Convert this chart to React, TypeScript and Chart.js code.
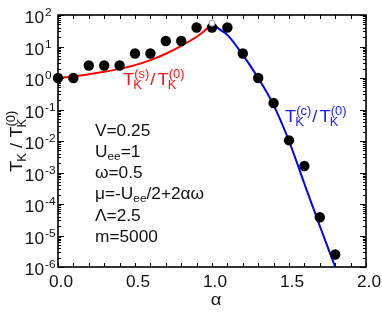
import React, { useEffect, useRef } from 'react';
import { Chart, registerables } from 'chart.js';

Chart.register(...registerables);

// Data points (black dots)
const dotAlpha = [0, 0.1, 0.2, 0.3, 0.4, 0.5, 0.6, 0.7, 0.8, 0.9, 1.0, 1.1, 1.2, 1.3, 1.4, 1.5, 1.6, 1.7, 1.8];
const dotRatio = [1.0, 1.0, 2.5, 2.5, 2.5, 6.0, 6.0, 15, 15, 40, 40, 40, 6.0, 1.0, 0.16, 0.0105, 0.0016, 3.8e-5, 2.5e-6];

// Red curve T_K^(s)/T_K^(0)
const sAlpha = [0, 0.1, 0.2, 0.3, 0.4, 0.5, 0.6, 0.7, 0.8, 0.9, 0.95, 1.0];
const sRatio = [1.0, 1.12, 1.32, 1.58, 1.95, 2.57, 3.7, 5.9, 10.5, 20.4, 31, 55];

// Blue curve T_K^(c)/T_K^(0)
const cAlpha = [1.0, 1.05, 1.1, 1.2, 1.3, 1.4, 1.5, 1.6, 1.7, 1.8];
const cRatio = [55, 35, 23.4, 5.4, 1.0, 0.138, 0.01, 4.4e-4, 2.0e-5, 1.0e-6];

// Junction marker
const junctionAlpha = [1.0];
const junctionRatio = [55];

// Axis ticks
const xTickLabels = ['0.0', '0.5', '1.0', '1.5', '2.0'];
const xTickValues = [0, 0.5, 1.0, 1.5, 2.0];
const yDecades = [-6, -5, -4, -3, -2, -1, 0, 1, 2];

const FONT = '"Liberation Sans", Arial, Helvetica, sans-serif';
const SX = 1.08;

function txt(ctx: CanvasRenderingContext2D, s: string, x: number, y: number, size: number, color: string, align: string = 'left'): number {
  ctx.save();
  ctx.font = `${size}px ${FONT}`;
  ctx.fillStyle = color;
  ctx.textBaseline = 'alphabetic';
  ctx.textAlign = 'left';
  const w = ctx.measureText(s).width * SX;
  let x0 = x;
  if (align === 'center') x0 = x - w / 2;
  else if (align === 'right') x0 = x - w;
  ctx.translate(x0, y);
  ctx.scale(SX, 1);
  ctx.fillText(s, 0, 0);
  ctx.restore();
  return w;
}

function tk(ctx: CanvasRenderingContext2D, x: number, y: number, sup: string, color: string, big: number): number {
  const w = txt(ctx, 'T', x, y, big, color);
  const small = Math.round(big * 0.68);
  const wk = txt(ctx, 'K', x + w - 1, y + 4, small, color);
  let ws = 0;
  if (sup) ws = txt(ctx, sup, x + w, y - 7, small, color);
  return w + Math.max(wk - 1, ws);
}

function ratioLabel(ctx: CanvasRenderingContext2D, x: number, y: number, sup1: string, color: string, big: number, tight: boolean) {
  let cx = x;
  cx += tk(ctx, cx, y, sup1, color, big);
  if (tight) {
    cx += 1;
    cx += txt(ctx, '/', cx, y, big, color);
    cx += 2;
  } else {
    cx += txt(ctx, ' / ', cx, y, big, color);
  }
  tk(ctx, cx, y, '(0)', color, big);
}

const framePlugin = {
  id: 'frameTicks',
  beforeDatasetsDraw(chart: any) {
    const ctx: CanvasRenderingContext2D = chart.ctx;
    const { left, right, top, bottom } = chart.chartArea;
    const xs = chart.scales.x;
    const ys = chart.scales.y;
    ctx.save();
    ctx.strokeStyle = '#000';
    ctx.lineWidth = 1;
    ctx.beginPath();
    for (let i = 0; i <= 20; i++) {
      const px = Math.round(xs.getPixelForValue(i / 10)) + 0.5;
      ctx.moveTo(px, bottom);
      ctx.lineTo(px, bottom - 4);
      ctx.moveTo(px, top);
      ctx.lineTo(px, top + 4);
    }
    for (let d = -6; d <= 2; d++) {
      for (let m = 1; m <= 9; m++) {
        if (d === 2 && m > 1) break;
        const v = m * Math.pow(10, d);
        const py = Math.round(ys.getPixelForValue(v)) + 0.5;
        const len = m === 1 ? 6 : 3;
        ctx.moveTo(left, py);
        ctx.lineTo(left + len, py);
        ctx.moveTo(right, py);
        ctx.lineTo(right - len, py);
      }
    }
    ctx.stroke();
    ctx.lineWidth = 1.6;
    ctx.strokeRect(left, top, right - left, bottom - top);
    ctx.restore();
  },
  afterDraw(chart: any) {
    const ctx: CanvasRenderingContext2D = chart.ctx;
    const xs = chart.scales.x;
    const ys = chart.scales.y;
    const bottom = chart.chartArea.bottom;
    const black = '#111';
    // x tick labels
    xTickValues.forEach((v, i) => {
      txt(ctx, xTickLabels[i], xs.getPixelForValue(v) + 3, bottom + 20, 16, black, 'center');
    });
    // y tick labels
    yDecades.forEach((d) => {
      const py = ys.getPixelForValue(Math.pow(10, d));
      txt(ctx, '10', 44, py + 8, 16, black, 'right');
      txt(ctx, String(d), 45, py + 1, 11, black, 'left');
    });
    // x title
    txt(ctx, 'α', 216, bottom + 38, 17, black, 'center');
    // y title (rotated)
    ctx.save();
    ctx.translate(22, 172);
    ctx.rotate(-Math.PI / 2);
    ratioLabel(ctx, 0, 0, '', black, 17, false);
    ctx.restore();
    // curve labels
    ratioLabel(ctx, 123, 85, '(s)', '#ff1010', 17, true);
    ratioLabel(ctx, 285, 122, '(c)', '#1a1aff', 17, true);
    // parameters
    const ax = 95;
    const lh = 21.3;
    let by = 135.5;
    txt(ctx, 'V=0.25', ax, by, 16, black);
    by += lh;
    let cx = ax;
    cx += txt(ctx, 'U', cx, by, 16, black);
    cx += txt(ctx, 'ee', cx, by + 3, 11, black);
    txt(ctx, '=1', cx, by, 16, black);
    by += lh;
    txt(ctx, 'ω=0.5', ax, by, 16, black);
    by += lh;
    cx = ax;
    cx += txt(ctx, 'μ=-U', cx, by, 16, black);
    cx += txt(ctx, 'ee', cx, by + 3, 11, black);
    txt(ctx, '/2+2αω', cx, by, 16, black);
    by += lh;
    txt(ctx, 'Λ=2.5', ax, by, 16, black);
    by += lh;
    txt(ctx, 'm=5000', ax, by, 16, black);
  },
};

export default function App() {
  const ref = useRef<HTMLCanvasElement | null>(null);
  useEffect(() => {
    if (!ref.current) return;
    const pts = (xs: number[], ys: number[]) => xs.map((x, i) => ({ x, y: ys[i] }));
    const chart = new Chart(ref.current, {
      type: 'scatter',
      data: {
        datasets: [
          {
            data: pts(junctionAlpha, junctionRatio),
            pointRadius: 3,
            backgroundColor: '#ffffff',
            borderColor: '#999999',
            borderWidth: 1,
            clip: false,
            order: 0,
          } as any,
          {
            data: pts(dotAlpha, dotRatio),
            pointRadius: 5.2,
            backgroundColor: '#000',
            borderColor: '#000',
            borderWidth: 0,
            clip: false,
            order: 1,
          } as any,
          {
            data: pts(sAlpha, sRatio),
            showLine: true,
            borderColor: '#ff0000',
            borderWidth: 2,
            pointRadius: 0,
            cubicInterpolationMode: 'monotone',
            clip: 1,
            order: 2,
          } as any,
          {
            data: pts(cAlpha, cRatio),
            showLine: true,
            borderColor: '#0000ff',
            borderWidth: 2,
            pointRadius: 0,
            cubicInterpolationMode: 'monotone',
            clip: 1,
            order: 2,
          } as any,
        ],
      },
      options: {
        responsive: false,
        animation: false,
        devicePixelRatio: 1,
        layout: { padding: { left: 58, top: 15, right: 16, bottom: 45 } },
        scales: {
          x: { type: 'linear', min: 0, max: 2, display: false },
          y: { type: 'logarithmic', min: 1e-6, max: 100, display: false },
        },
        plugins: { legend: { display: false }, tooltip: { enabled: false } },
        events: [],
      } as any,
      plugins: [framePlugin],
    });
    return () => chart.destroy();
  }, []);
  return (
    <div style={{ position: 'absolute', left: 0, top: 0, width: 382, height: 312, background: '#fff' }}>
      <canvas ref={ref} width={382} height={312} style={{ width: 382, height: 312, display: 'block' }} />
    </div>
  );
}
